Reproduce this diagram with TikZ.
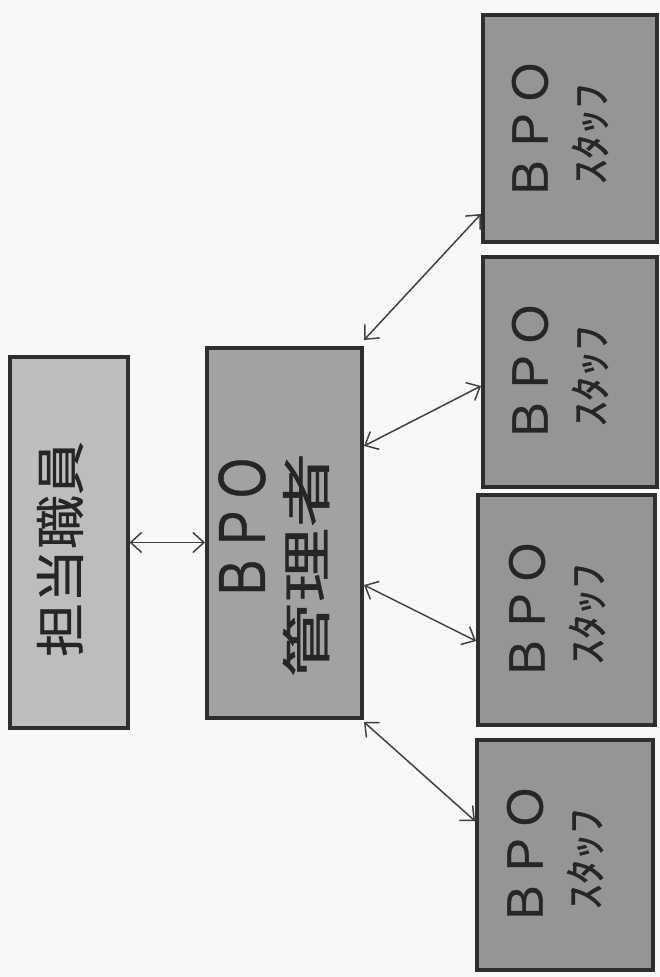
\documentclass[tikz,border=0pt]{standalone}
\usepackage{fontspec}
\newfontfamily\jp[FakeBold=0.6]{Noto Sans CJK JP}
\usetikzlibrary{arrows.meta,calc}
\definecolor{bgc}{HTML}{F8F8F8}
\definecolor{tantoc}{HTML}{BDBDBD}
\definecolor{mgrc}{HTML}{A2A2A2}
\definecolor{staffc}{HTML}{959595}
\definecolor{edgec}{HTML}{2E2E2E}
\definecolor{txtc}{HTML}{262626}
\definecolor{arrc}{HTML}{404040}
\tikzset{
  box/.style={draw=edgec,line width=4pt,rectangle,inner sep=0pt},
  lbl/.style={rotate=90,inner sep=0pt,text=txtc,font=\jp},
  conn/.style={arrc,line width=1.5pt,{Straight Barb[length=11pt,width=20pt,line width=1.5pt]}-{Straight Barb[length=11pt,width=20pt,line width=1.5pt]}}
}
\begin{document}
\begin{tikzpicture}[x=1pt,y=-1pt]
\fill[bgc] (0,0) rectangle (660,977);
\useasboundingbox (0,0) rectangle (660,977);
% boxes
\node[box,fill=tantoc,minimum width=118pt,minimum height=371pt] (tanto) at (68.5,542.5) {};
\node[box,fill=mgrc,minimum width=155pt,minimum height=370pt] (mgr) at (284.5,533) {};
\node[box,fill=staffc,minimum width=174pt,minimum height=227pt] (s1) at (570,128.5) {};
\node[box,fill=staffc,minimum width=174pt,minimum height=230pt] (s2) at (570,372) {};
\node[box,fill=staffc,minimum width=177pt,minimum height=230pt] (s3) at (566.5,610) {};
\node[box,fill=staffc,minimum width=176pt,minimum height=230pt] (s4) at (565,855) {};
% labels
\node[lbl] (tantot) at (60,549) {\fontsize{50}{50}\selectfont\scalebox{1.08}[1]{担当職員}};
\node[lbl] (mgrt1) at (242,528) {\fontsize{50}{50}\selectfont\scalebox{1}[1.25]{ＢＰＯ}};
\node[lbl] (mgrt2) at (306,565) {\fontsize{50}{50}\selectfont\scalebox{1.5}[1]{管理者}};
\foreach \n/\cx/\cy in {s1/0/130, s2/0/372, s3/-3/610, s4/-5/855}{
  \node[lbl] (\n a) at (530+\cx,\cy) {\fontsize{48}{48}\selectfont ＢＰＯ};
  \node[lbl] (\n b) at (590+\cx,\cy+4) {\fontsize{42}{42}\selectfont\scalebox{1.2}[1]{ｽﾀｯﾌ}};
}
% connectors
\draw[conn] (tanto.east) -- (tanto.east -| mgr.west);
\draw[conn] ([yshift=6pt]mgr.north east) -- ([yshift=30pt]s1.south west);
\draw[conn] ([yshift=-100pt]mgr.north east) -- ([yshift=-131pt]s2.north west);
\draw[conn] ([yshift=135pt]mgr.south east) -- ([yshift=-148pt]s3.north west);
\draw[conn] ([yshift=-2pt]mgr.south east) -- ([yshift=-83pt]s4.north west);
\end{tikzpicture}
\end{document}
